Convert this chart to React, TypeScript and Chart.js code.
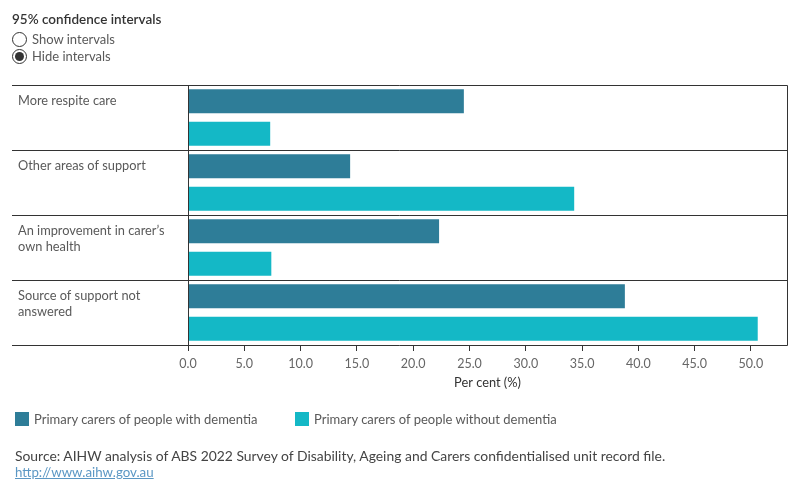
import React, { useEffect, useRef } from "react";
import { Chart, registerables } from "chart.js";

Chart.register(...registerables);

// Reasons / sources of support, each possibly split over two lines
const categories: string[][] = [
  ["More respite care"],
  ["Other areas of support"],
  ["An improvement in carer’s", "own health"],
  ["Source of support not", "answered"],
];

// Per cent of primary carers
const withDementia = [24.5, 14.4, 22.3, 38.8];
const withoutDementia = [7.3, 34.3, 7.4, 50.6];

const seriesLabels = [
  "Primary carers of people with dementia",
  "Primary carers of people without dementia",
];
const seriesColors = ["#2E7D98", "#14B8C6"];

const xTicks = [0, 5, 10, 15, 20, 25, 30, 35, 40, 45, 50];
const xMax = 53.2;
const xTitle = "Per cent (%)";

const FONT = "Lato, 'Noto Sans', sans-serif";
const LINE = "#333333";
const TEXT = "#595959";

// Row separators, frame, category labels and axis title
const framePlugin = {
  id: "frame",
  afterDraw(chart: any) {
    const { ctx, chartArea, scales } = chart;
    const y = scales.y;
    const x = scales.x;
    const n = categories.length;
    const half = n > 1 ? (y.getPixelForValue(1) - y.getPixelForValue(0)) / 2 : (chartArea.bottom - chartArea.top) / 2;
    ctx.save();
    ctx.strokeStyle = LINE;
    ctx.lineWidth = 1;
    // horizontal separators
    for (let i = 0; i <= n; i++) {
      const yy = Math.round(y.getPixelForValue(i) - half) + 0.5;
      ctx.beginPath();
      ctx.moveTo(12, yy);
      ctx.lineTo(Math.round(chartArea.right) + 0.5, yy);
      ctx.stroke();
    }
    // left axis line and right frame
    const l = Math.round(chartArea.left) + 0.5;
    const r = Math.round(chartArea.right) + 0.5;
    const t = Math.round(chartArea.top) + 0.5;
    const b = Math.round(chartArea.bottom) + 0.5;
    ctx.beginPath();
    ctx.moveTo(l, t);
    ctx.lineTo(l, b);
    ctx.moveTo(r, t);
    ctx.lineTo(r, b);
    ctx.stroke();

    // category labels, top-aligned in each row
    ctx.fillStyle = TEXT;
    ctx.font = `12.8px ${FONT}`;
    ctx.textAlign = "left";
    ctx.textBaseline = "middle";
    categories.forEach((lines, i) => {
      const top = y.getPixelForValue(i) - half;
      lines.forEach((s, j) => {
        ctx.fillText(s, 18, top + 16 + j * 16);
      });
    });

    // x axis title
    ctx.fillStyle = "#333333";
    ctx.font = `12.8px ${FONT}`;
    ctx.textAlign = "center";
    ctx.fillText(xTitle, (x.left + x.right) / 2, 383);
    ctx.restore();
  },
};

function BarChart() {
  const ref = useRef<HTMLCanvasElement | null>(null);
  useEffect(() => {
    if (!ref.current) return;
    const chart = new Chart(ref.current, {
      type: "bar",
      data: {
        labels: categories.map((c) => c.join(" ")),
        datasets: [
          {
            label: seriesLabels[0],
            data: withDementia,
            backgroundColor: seriesColors[0],
            categoryPercentage: 1,
            barPercentage: 0.738,
          },
          {
            label: seriesLabels[1],
            data: withoutDementia,
            backgroundColor: seriesColors[1],
            categoryPercentage: 1,
            barPercentage: 0.738,
          },
        ],
      },
      options: {
        indexAxis: "y",
        responsive: false,
        animation: false,
        layout: { padding: { top: 85, right: 13, bottom: 0, left: 0 } },
        plugins: {
          legend: { display: false },
          tooltip: { enabled: false },
        },
        scales: {
          y: {
            type: "category",
            offset: true,
            grid: { display: false },
            border: { display: false },
            ticks: { display: false },
            afterFit: (s: any) => {
              s.width = 188;
            },
          },
          x: {
            type: "linear",
            min: 0,
            max: xMax,
            grid: {
              drawOnChartArea: false,
              drawTicks: true,
              tickLength: 6,
              color: LINE,
            },
            border: { display: false },
            afterBuildTicks: (s: any) => {
              s.ticks = xTicks.map((v) => ({ value: v }));
            },
            ticks: {
              color: "#666666",
              padding: 5,
              maxRotation: 0,
              font: { family: FONT, size: 12.5 },
              callback: (v: any) => Number(v).toFixed(1),
            },
            afterFit: (s: any) => {
              s.height = 155;
            },
          },
        },
      },
      plugins: [framePlugin],
    });
    return () => chart.destroy();
  }, []);
  return <canvas ref={ref} width={800} height={500} style={{ position: "absolute", left: 0, top: 0 }} />;
}

function Radio({ label, checked, top }: { label: string; checked: boolean; top: number }) {
  return (
    <div style={{ position: "absolute", left: 12, top, height: 16, display: "flex", alignItems: "center" }}>
      <div
        style={{
          width: 13,
          height: 13,
          borderRadius: "50%",
          border: "1px solid #333",
          display: "flex",
          alignItems: "center",
          justifyContent: "center",
          background: "#fff",
        }}
      >
        {checked && <div style={{ width: 9, height: 9, borderRadius: "50%", background: "#333" }} />}
      </div>
      <span style={{ marginLeft: 5, fontSize: 13, color: TEXT }}>{label}</span>
    </div>
  );
}

export default function App() {
  return (
    <div
      style={{
        position: "absolute",
        left: 0,
        top: 0,
        width: 800,
        height: 500,
        background: "#fff",
        fontFamily: FONT,
        overflow: "hidden",
      }}
    >
      <BarChart />
      <div style={{ position: "absolute", left: 12, top: 11, fontSize: 13.5, fontWeight: 600, color: "#333" }}>
        95% confidence intervals
      </div>
      <Radio label="Show intervals" checked={false} top={31} />
      <Radio label="Hide intervals" checked={true} top={48} />

      {seriesLabels.map((s, i) => (
        <div
          key={s}
          style={{ position: "absolute", left: i === 0 ? 15 : 295, top: 411, display: "flex", alignItems: "center" }}
        >
          <div style={{ width: 14, height: 14, background: seriesColors[i] }} />
          <span style={{ marginLeft: 5, fontSize: 13, color: TEXT }}>{s}</span>
        </div>
      ))}

      <div style={{ position: "absolute", left: 15, top: 447, fontSize: 13.9, color: "#444" }}>
        Source: AIHW analysis of ABS 2022 Survey of Disability, Ageing and Carers confidentialised unit record file.
      </div>
      <a
        href="http://www.aihw.gov.au"
        style={{ position: "absolute", left: 15, top: 464, fontSize: 13.3, color: "#5B97C4", textDecoration: "underline" }}
      >
        http://www.aihw.gov.au
      </a>
    </div>
  );
}
